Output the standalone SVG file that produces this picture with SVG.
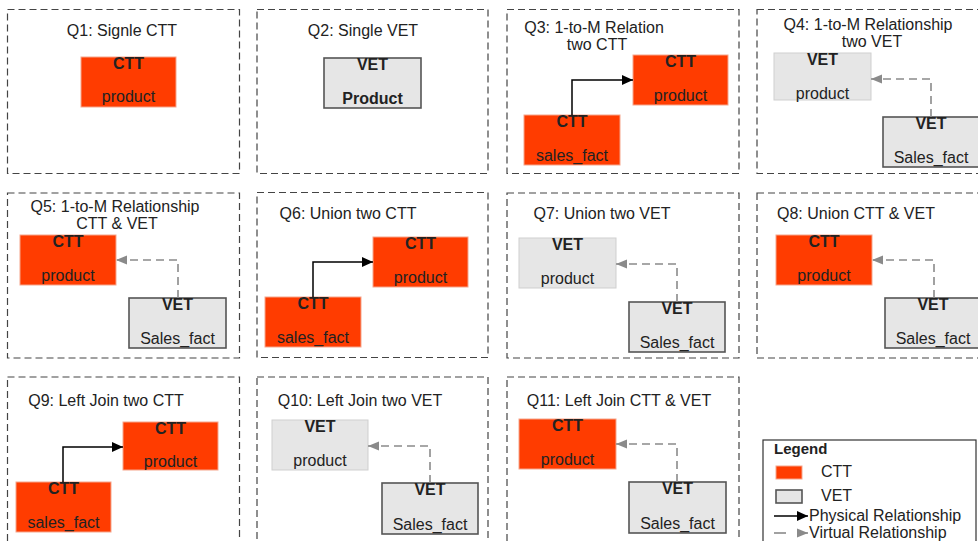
<svg xmlns="http://www.w3.org/2000/svg" width="978" height="541" viewBox="0 0 978 541">
<style>
text{font-family:"Liberation Sans",Arial,sans-serif;font-size:16px;fill:#222}
.t{text-anchor:middle}
.b{font-weight:bold}
.panel{fill:none;stroke:#444;stroke-width:1.2;stroke-dasharray:7 4}
.ctt{fill:#ff3c00;stroke:#f5a58c;stroke-width:1}
.vet{fill:#e6e6e6;stroke:#555;stroke-width:1.6}
.vetl{fill:#e6e6e6;stroke:#cfcfcf;stroke-width:1}
.phys{fill:none;stroke:#000;stroke-width:1.5;marker-end:url(#ah)}
.virt{fill:none;stroke:#8a8a8a;stroke-width:1.6;stroke-dasharray:8 5;marker-end:url(#ahg)}
</style>
<defs>
<marker id="ah" markerUnits="userSpaceOnUse" markerWidth="12" markerHeight="10" refX="11" refY="5" orient="auto"><path d="M0,0 L11,5 L0,10 Z" fill="#000"/></marker>
<marker id="ahg" markerUnits="userSpaceOnUse" markerWidth="12" markerHeight="10" refX="11" refY="5" orient="auto"><path d="M0,0.5 L11,5 L0,9.5 Z" fill="#8a8a8a"/></marker>
</defs>
<rect width="978" height="541" fill="#fff"/>

<!-- panels -->
<g id="panels">
<rect class="panel" x="7.5" y="9.5" width="232" height="164"/>
<rect class="panel" x="257" y="9.5" width="231" height="164"/>
<rect class="panel" x="507" y="9.5" width="232" height="164"/>
<rect class="panel" x="757" y="9.5" width="240" height="164"/>
<rect class="panel" x="7.5" y="193" width="232" height="165"/>
<rect class="panel" x="257" y="192.5" width="231" height="165"/>
<rect class="panel" x="507" y="193" width="232" height="165"/>
<rect class="panel" x="757" y="193" width="240" height="165"/>
<rect class="panel" x="7.5" y="377" width="232" height="180"/>
<rect class="panel" x="257" y="377" width="231" height="180"/>
<rect class="panel" x="507" y="377" width="232" height="180"/>
<text class="t" x="122" y="36">Q1: Signle CTT</text>
<text class="t" x="363" y="36">Q2: Single VET</text>
<text class="t" x="594" y="33">Q3: 1-to-M Relation</text>
<text class="t" x="597" y="50">two CTT</text>
<text class="t" x="868" y="30">Q4: 1-to-M Relationship</text>
<text class="t" x="872" y="47">two VET</text>
<text class="t" x="115" y="212">Q5: 1-to-M Relationship</text>
<text class="t" x="117" y="229">CTT &amp; VET</text>
<text class="t" x="348" y="219">Q6: Union two CTT</text>
<text class="t" x="602" y="219">Q7: Union two VET</text>
<text class="t" x="856" y="219">Q8: Union CTT &amp; VET</text>
<text class="t" x="106" y="406">Q9: Left Join two CTT</text>
<text class="t" x="360" y="406">Q10: Left Join two VET</text>
<text class="t" x="619" y="406">Q11: Left Join CTT &amp; VET</text>
</g>

<!-- Q1 -->
<g id="q1-product"><rect class="ctt" x="81" y="57" width="95" height="50"/><text class="t b" x="128.5" y="69">CTT</text><text class="t" x="128.5" y="102">product</text></g>
<!-- Q2 -->
<g id="q2-product"><rect class="vet" x="324" y="58" width="97" height="50"/><text class="t b" x="372.5" y="70">VET</text><text class="t b" x="372.5" y="104">Product</text></g>
<!-- Q3 -->
<g id="q3-product"><rect class="ctt" x="633" y="55" width="95" height="50"/><text class="t b" x="680.5" y="67">CTT</text><text class="t" x="680.5" y="101">product</text></g>
<g id="q3-sales"><rect class="ctt" x="524" y="115" width="96" height="50"/><text class="t b" x="572" y="127">CTT</text><text class="t" x="572" y="161">sales_fact</text></g>
<!-- Q4 -->
<g id="q4-product"><rect class="vetl" x="774" y="53" width="97" height="47"/><text class="t b" x="822.5" y="65">VET</text><text class="t" x="822.5" y="99">product</text></g>
<g id="q4-sales"><rect class="vet" x="883" y="117" width="97" height="50"/><text class="t b" x="931" y="129">VET</text><text class="t" x="931" y="163">Sales_fact</text></g>
<!-- Q5 -->
<g id="q5-product"><rect class="ctt" x="20" y="235" width="96" height="50"/><text class="t b" x="68" y="247">CTT</text><text class="t" x="68" y="281">product</text></g>
<g id="q5-sales"><rect class="vet" x="129" y="298" width="97" height="50"/><text class="t b" x="177.5" y="310">VET</text><text class="t" x="177.5" y="344">Sales_fact</text></g>
<!-- Q6 -->
<g id="q6-product"><rect class="ctt" x="373" y="237" width="95" height="50"/><text class="t b" x="420.5" y="249">CTT</text><text class="t" x="420.5" y="283">product</text></g>
<g id="q6-sales"><rect class="ctt" x="265" y="297" width="96" height="50"/><text class="t b" x="313" y="309">CTT</text><text class="t" x="313" y="343">sales_fact</text></g>
<!-- Q7 -->
<g id="q7-product"><rect class="vetl" x="519" y="238" width="97" height="50"/><text class="t b" x="567.5" y="250">VET</text><text class="t" x="567.5" y="284">product</text></g>
<g id="q7-sales"><rect class="vet" x="629" y="302" width="96" height="50"/><text class="t b" x="677" y="314">VET</text><text class="t" x="677" y="348">Sales_fact</text></g>
<!-- Q8 -->
<g id="q8-product"><rect class="ctt" x="776" y="235" width="96" height="50"/><text class="t b" x="824" y="247">CTT</text><text class="t" x="824" y="281">product</text></g>
<g id="q8-sales"><rect class="vet" x="885" y="298" width="97" height="50"/><text class="t b" x="933" y="310">VET</text><text class="t" x="933" y="344">Sales_fact</text></g>
<!-- Q9 -->
<g id="q9-product"><rect class="ctt" x="123" y="422" width="95" height="48"/><text class="t b" x="170.5" y="434">CTT</text><text class="t" x="170.5" y="467">product</text></g>
<g id="q9-sales"><rect class="ctt" x="16" y="482" width="95" height="50"/><text class="t b" x="63.5" y="494">CTT</text><text class="t" x="63.5" y="528">sales_fact</text></g>
<!-- Q10 -->
<g id="q10-product"><rect class="vetl" x="272" y="420" width="96" height="50"/><text class="t b" x="320" y="432">VET</text><text class="t" x="320" y="466">product</text></g>
<g id="q10-sales"><rect class="vet" x="382" y="483" width="96" height="51"/><text class="t b" x="430" y="495">VET</text><text class="t" x="430" y="530">Sales_fact</text></g>
<!-- Q11 -->
<g id="q11-product"><rect class="ctt" x="519" y="419" width="97" height="50"/><text class="t b" x="567.5" y="431">CTT</text><text class="t" x="567.5" y="465">product</text></g>
<g id="q11-sales"><rect class="vet" x="629" y="482" width="97" height="51"/><text class="t b" x="677.5" y="494">VET</text><text class="t" x="677.5" y="529">Sales_fact</text></g>

<!-- connectors -->
<g id="connectors">
<path class="phys" d="M572,115 V80 H633"/>
<path class="virt" d="M931,117 V79 H871"/>
<path class="virt" d="M178,298 V260 H116"/>
<path class="phys" d="M313,297 V262 H373"/>
<path class="virt" d="M677,302 V264 H616"/>
<path class="virt" d="M934,298 V260 H872"/>
<path class="phys" d="M63,482 V447 H123"/>
<path class="virt" d="M430,483 V446 H368"/>
<path class="virt" d="M677,482 V444 H616"/>
</g>

<!-- legend -->
<g id="legend">
<rect x="763" y="440" width="213" height="110" fill="#fff" stroke="#333" stroke-width="1.2"/>
<text class="b" x="774" y="454" style="font-size:15px">Legend</text>
<rect class="ctt" x="776" y="466" width="26" height="13"/>
<text x="821" y="477">CTT</text>
<rect class="vet" x="776" y="490" width="26" height="13" stroke-width="1.2"/>
<text x="821" y="501">VET</text>
<path d="M774,516 H808" stroke="#000" stroke-width="1.5" marker-end="url(#ah)"/>
<text x="809" y="521">Physical Relationship</text>
<path d="M774,533 H786" stroke="#8a8a8a" stroke-width="1.6"/>
<path d="M797,533 H808" stroke="#8a8a8a" stroke-width="1.6" marker-end="url(#ahg)"/>
<text x="809" y="538">Virtual Relationship</text>
</g>
</svg>
